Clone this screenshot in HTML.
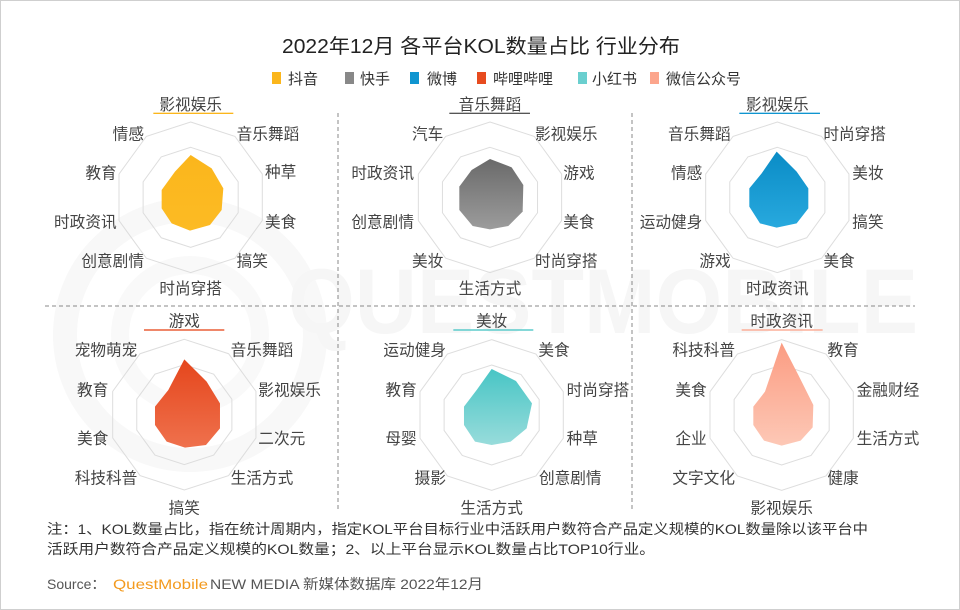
<!DOCTYPE html>
<html><head><meta charset="utf-8">
<style>
html,body{margin:0;padding:0;background:#fff;}
svg{display:block;font-family:"Liberation Sans","Noto Sans CJK SC",sans-serif;}
</style></head>
<body>
<svg width="960" height="610" viewBox="0 0 960 610" xmlns="http://www.w3.org/2000/svg">
<defs>
<linearGradient id="gy" x1="0" y1="0" x2="0" y2="1"><stop offset="0" stop-color="#fbb61c"/><stop offset="1" stop-color="#fcbb24"/></linearGradient>
<linearGradient id="gg" x1="0" y1="0" x2="0" y2="1"><stop offset="0" stop-color="#6a6a6a"/><stop offset="1" stop-color="#9c9c9c"/></linearGradient>
<linearGradient id="gb" x1="0" y1="0" x2="0" y2="1"><stop offset="0" stop-color="#0a8cc6"/><stop offset="1" stop-color="#28a9de"/></linearGradient>
<linearGradient id="gr" x1="0" y1="0" x2="0" y2="1"><stop offset="0" stop-color="#e5461c"/><stop offset="1" stop-color="#ef714d"/></linearGradient>
<linearGradient id="gt" x1="0" y1="0" x2="0" y2="1"><stop offset="0" stop-color="#48c5c5"/><stop offset="1" stop-color="#98dcdb"/></linearGradient>
<linearGradient id="gs" x1="0" y1="0" x2="0" y2="1"><stop offset="0" stop-color="#fb9c82"/><stop offset="1" stop-color="#fdc8b6"/></linearGradient>
</defs>
<rect x="0.5" y="0.5" width="959" height="609" fill="#fff" stroke="#cfcfcf"/>
<!-- watermark -->
<circle cx="190" cy="335" r="125" fill="none" stroke="#f8f8f8" stroke-width="24"/>
<circle cx="190" cy="335" r="70" fill="none" stroke="#f9f9f9" stroke-width="18"/>
<text x="288" y="333" font-size="92" font-weight="bold" fill="#f6f6f6" textLength="630" lengthAdjust="spacingAndGlyphs">QUESTMOBILE</text>

<text x="481" y="53" font-size="20" fill="#222" text-anchor="middle" textLength="398" lengthAdjust="spacingAndGlyphs">2022年12月 各平台KOL数量占比 行业分布</text>
<g font-size="15" fill="#333">
<rect x="272" y="72" width="9" height="12" fill="#fbb61c"/><text x="288" y="84">抖音</text>
<rect x="345" y="72" width="9" height="12" fill="#888"/><text x="360" y="84">快手</text>
<rect x="410" y="72" width="9" height="12" fill="#0f95d0"/><text x="427" y="84">微博</text>
<rect x="477" y="72" width="9" height="12" fill="#e74b1f"/><text x="493" y="84">哔哩哔哩</text>
<rect x="578" y="72" width="9" height="12" fill="#6acfcf"/><text x="592" y="84">小红书</text>
<rect x="650" y="72" width="9" height="12" fill="#fca58c"/><text x="666" y="84">微信公众号</text>
</g>

<g stroke="#888" stroke-dasharray="4,3" stroke-width="1">
<line x1="45" y1="306" x2="915" y2="306"/>
<line x1="338" y1="113" x2="338" y2="510"/>
<line x1="632" y1="113" x2="632" y2="510"/>
</g>

<g transform="translate(40,90) scale(0.3333)" font-size="47" fill="#444">
<g transform="translate(452,322) scale(226)"><polygon points="0,-1 .588,-.809 .951,-.309 .951,.309 .588,.809 0,1 -.588,.809 -.951,.309 -.951,-.309 -.588,-.809" fill="none" stroke="#ddd" vector-effect="non-scaling-stroke"/></g>
<g transform="translate(452,322) scale(150)"><polygon points="0,-1 .588,-.809 .951,-.309 .951,.309 .588,.809 0,1 -.588,.809 -.951,.309 -.951,-.309 -.588,-.809" fill="none" stroke="#ddd" vector-effect="non-scaling-stroke"/></g>
<polygon points="452,195 515,235 550,295 545,360 510,405 450,422 395,400 365,355 365,300 405,245" fill="url(#gy)"/>
<text x="452" y="60" text-anchor="middle">影视娱乐</text><rect x="340" y="68" width="240" height="4" fill="#fbb61c"/>
<text x="590" y="148">音乐舞蹈</text><text x="675" y="262">种草</text><text x="675" y="412">美食</text><text x="590" y="530">搞笑</text>
<text x="452" y="612" text-anchor="middle">时尚穿搭</text>
<text x="312" y="530" text-anchor="end">创意剧情</text><text x="230" y="412" text-anchor="end">时政资讯</text><text x="230" y="265" text-anchor="end">教育</text><text x="312" y="148" text-anchor="end">情感</text>
</g>

<g transform="translate(340,90) scale(0.3333)" font-size="47" fill="#444">
<g transform="translate(450,322) scale(226)"><polygon points="0,-1 .588,-.809 .951,-.309 .951,.309 .588,.809 0,1 -.588,.809 -.951,.309 -.951,-.309 -.588,-.809" fill="none" stroke="#ddd" vector-effect="non-scaling-stroke"/></g>
<g transform="translate(450,322) scale(150)"><polygon points="0,-1 .588,-.809 .951,-.309 .951,.309 .588,.809 0,1 -.588,.809 -.951,.309 -.951,-.309 -.588,-.809" fill="none" stroke="#ddd" vector-effect="non-scaling-stroke"/></g>
<polygon points="450,207 515,232 550,285 548,365 505,408 450,418 398,408 358,360 358,290 395,240" fill="url(#gg)"/>
<text x="450" y="60" text-anchor="middle">音乐舞蹈</text><rect x="328" y="68" width="242" height="4" fill="#555"/>
<text x="585" y="148">影视娱乐</text><text x="670" y="265">游戏</text><text x="670" y="412">美食</text><text x="585" y="530">时尚穿搭</text>
<text x="450" y="612" text-anchor="middle">生活方式</text>
<text x="310" y="530" text-anchor="end">美妆</text><text x="222" y="412" text-anchor="end">创意剧情</text><text x="222" y="265" text-anchor="end">时政资讯</text><text x="310" y="148" text-anchor="end">汽车</text>
</g>

<g transform="translate(640,90) scale(0.3333)" font-size="47" fill="#444">
<g transform="translate(412,322) scale(226)"><polygon points="0,-1 .588,-.809 .951,-.309 .951,.309 .588,.809 0,1 -.588,.809 -.951,.309 -.951,-.309 -.588,-.809" fill="none" stroke="#ddd" vector-effect="non-scaling-stroke"/></g>
<g transform="translate(412,322) scale(150)"><polygon points="0,-1 .588,-.809 .951,-.309 .951,.309 .588,.809 0,1 -.588,.809 -.951,.309 -.951,-.309 -.588,-.809" fill="none" stroke="#ddd" vector-effect="non-scaling-stroke"/></g>
<polygon points="410,185 470,245 505,295 505,355 470,400 410,413 360,400 328,350 328,295 365,250" fill="url(#gb)"/>
<text x="412" y="60" text-anchor="middle">影视娱乐</text><rect x="298" y="68" width="242" height="4" fill="#0f95d0"/>
<text x="550" y="148">时尚穿搭</text><text x="637" y="265">美妆</text><text x="637" y="412">搞笑</text><text x="550" y="530">美食</text>
<text x="412" y="612" text-anchor="middle">时政资讯</text>
<text x="272" y="530" text-anchor="end">游戏</text><text x="187" y="412" text-anchor="end">运动健身</text><text x="187" y="265" text-anchor="end">情感</text><text x="272" y="148" text-anchor="end">音乐舞蹈</text>
</g>

<g transform="translate(40,300) scale(0.3333)" font-size="47" fill="#444">
<g transform="translate(433,344) scale(226)"><polygon points="0,-1 .588,-.809 .951,-.309 .951,.309 .588,.809 0,1 -.588,.809 -.951,.309 -.951,-.309 -.588,-.809" fill="none" stroke="#ddd" vector-effect="non-scaling-stroke"/></g>
<g transform="translate(433,344) scale(150)"><polygon points="0,-1 .588,-.809 .951,-.309 .951,.309 .588,.809 0,1 -.588,.809 -.951,.309 -.951,-.309 -.588,-.809" fill="none" stroke="#ddd" vector-effect="non-scaling-stroke"/></g>
<polygon points="433,178 500,245 540,310 540,385 498,435 435,443 380,425 345,375 345,320 385,270" fill="url(#gr)"/>
<text x="433" y="80" text-anchor="middle">游戏</text><rect x="312" y="88" width="241" height="4" fill="#e74b1f"/>
<text x="572" y="167">音乐舞蹈</text><text x="655" y="287">影视娱乐</text><text x="655" y="432">二次元</text><text x="572" y="550">生活方式</text>
<text x="433" y="640" text-anchor="middle">搞笑</text>
<text x="292" y="550" text-anchor="end">科技科普</text><text x="205" y="432" text-anchor="end">美食</text><text x="205" y="287" text-anchor="end">教育</text><text x="292" y="167" text-anchor="end">宠物萌宠</text>
</g>

<g transform="translate(340,300) scale(0.3333)" font-size="47" fill="#444">
<g transform="translate(455,345) scale(226)"><polygon points="0,-1 .588,-.809 .951,-.309 .951,.309 .588,.809 0,1 -.588,.809 -.951,.309 -.951,-.309 -.588,-.809" fill="none" stroke="#ddd" vector-effect="non-scaling-stroke"/></g>
<g transform="translate(455,345) scale(150)"><polygon points="0,-1 .588,-.809 .951,-.309 .951,.309 .588,.809 0,1 -.588,.809 -.951,.309 -.951,-.309 -.588,-.809" fill="none" stroke="#ddd" vector-effect="non-scaling-stroke"/></g>
<polygon points="455,207 528,243 576,310 560,385 512,425 455,435 405,425 372,375 372,320 410,270" fill="url(#gt)"/>
<text x="455" y="80" text-anchor="middle">美妆</text><rect x="340" y="88" width="240" height="4" fill="#48c5c5"/>
<text x="595" y="167">美食</text><text x="680" y="287">时尚穿搭</text><text x="680" y="432">种草</text><text x="597" y="550">创意剧情</text>
<text x="455" y="640" text-anchor="middle">生活方式</text>
<text x="318" y="550" text-anchor="end">摄影</text><text x="230" y="432" text-anchor="end">母婴</text><text x="230" y="287" text-anchor="end">教育</text><text x="318" y="167" text-anchor="end">运动健身</text>
</g>

<g transform="translate(640,300) scale(0.3333)" font-size="47" fill="#444">
<g transform="translate(425,345) scale(226)"><polygon points="0,-1 .588,-.809 .951,-.309 .951,.309 .588,.809 0,1 -.588,.809 -.951,.309 -.951,-.309 -.588,-.809" fill="none" stroke="#ddd" vector-effect="non-scaling-stroke"/></g>
<g transform="translate(425,345) scale(150)"><polygon points="0,-1 .588,-.809 .951,-.309 .951,.309 .588,.809 0,1 -.588,.809 -.951,.309 -.951,-.309 -.588,-.809" fill="none" stroke="#ddd" vector-effect="non-scaling-stroke"/></g>
<polygon points="425,128 475,225 520,315 518,382 482,422 425,437 372,422 340,375 340,320 375,275" fill="url(#gs)"/>
<text x="425" y="80" text-anchor="middle">时政资讯</text><rect x="305" y="88" width="243" height="4" fill="#fca58c"/>
<text x="562" y="167">教育</text><text x="650" y="287">金融财经</text><text x="650" y="432">生活方式</text><text x="562" y="550">健康</text>
<text x="425" y="640" text-anchor="middle">影视娱乐</text>
<text x="285" y="550" text-anchor="end">文字文化</text><text x="200" y="432" text-anchor="end">企业</text><text x="200" y="287" text-anchor="end">美食</text><text x="285" y="167" text-anchor="end">科技科普</text>
</g>

<g font-size="14" fill="#333">
<text x="47" y="534" textLength="821" lengthAdjust="spacingAndGlyphs">注：1、KOL数量占比，指在统计周期内，指定KOL平台目标行业中活跃用户数符合产品定义规模的KOL数量除以该平台中</text>
<text x="47" y="554" textLength="608" lengthAdjust="spacingAndGlyphs">活跃用户数符合产品定义规模的KOL数量；2、以上平台显示KOL数量占比TOP10行业。</text>
<text x="47" y="589" fill="#555">Source：</text>
<text x="113" y="589" fill="#f39a1e" textLength="95" lengthAdjust="spacingAndGlyphs">QuestMobile</text>
<text x="210" y="589" fill="#555" textLength="273" lengthAdjust="spacingAndGlyphs">NEW MEDIA 新媒体数据库 2022年12月</text>
</g>
</svg>
</body></html>
